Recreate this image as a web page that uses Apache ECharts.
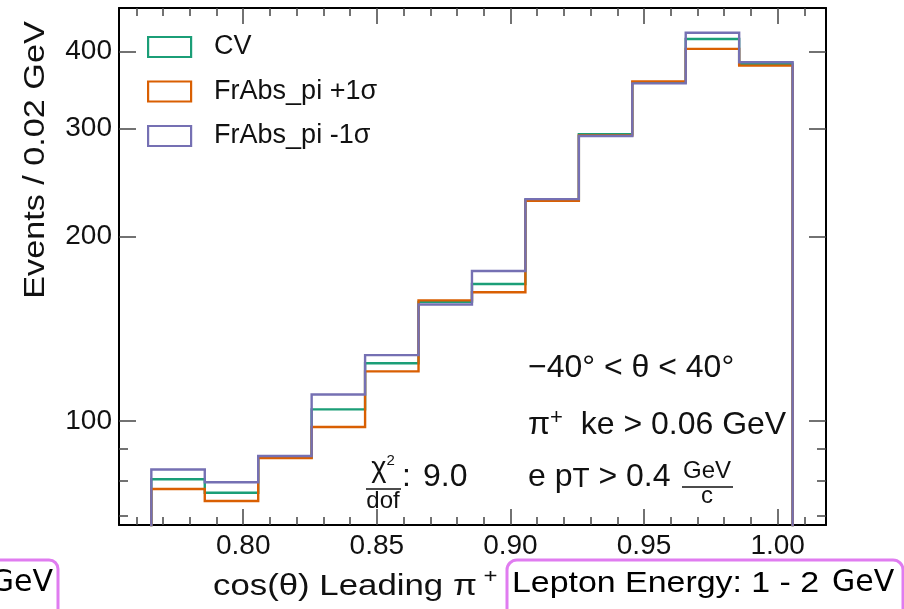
<!DOCTYPE html>
<html>
<head>
<meta charset="utf-8">
<script src="https://cdn.jsdelivr.net/npm/echarts@6/dist/echarts.min.js"></script>
<style>
html,body{margin:0;padding:0;background:#fff;}
#chart{width:904px;height:609px;}
</style>
</head>
<body>
<div id="chart"></div>
<script>
// ---- data ----
const binEdges = [0.7656, 0.7856, 0.8056, 0.8256, 0.8456, 0.8656, 0.8856, 0.9056, 0.9256, 0.9456, 0.9656, 0.9856, 1.0056];
const seriesNames = ['CV', 'FrAbs_pi +1σ', 'FrAbs_pi -1σ'];
const cvValues     = [80.4, 76.4, 87.3, 104.5, 124.2, 156.4, 167.3, 229.3, 293.4, 356.5, 419.6, 382.4];
const plus1Values  = [77.5, 74.1, 87.0,  97.8, 120.5, 157.3, 162.2, 228.6, 292.0, 357.9, 404.2, 379.6];
const minus1Values = [83.4, 79.5, 87.7, 110.5, 128.1, 154.9, 175.6, 230.0, 291.5, 355.2, 429.6, 384.4];
const xMajorTicks = [0.80, 0.85, 0.90, 0.95, 1.00];
const xMinorTicks = [0.76, 0.77, 0.78, 0.79, 0.81, 0.82, 0.83, 0.84, 0.86, 0.87, 0.88, 0.89,
                     0.91, 0.92, 0.93, 0.94, 0.96, 0.97, 0.98, 0.99, 1.01];
const yMajorTicks = [100, 200, 300, 400];
const yMinorTicks = [70, 80, 90];

// ---- layout / style ----
const X_MIN = 0.7535, X_MAX = 1.0181;
const Y_MIN = 67.7, Y_MAX = 471.3;
const FLOOR = 1; // histogram drops to zero (below visible range, clipped)
const colors = ['#1b9e77', '#d95f02', '#7570b3'];
const FONT = 'Liberation Sans, Arial, Helvetica, sans-serif';
const TICK_COLOR = '#444';

function histPoints(vals) {
  const pts = [[binEdges[0], FLOOR]];
  vals.forEach((v, i) => {
    pts.push([binEdges[i], v]);
    pts.push([binEdges[i + 1], v]);
  });
  pts.push([binEdges[binEdges.length - 1], FLOOR]);
  return pts;
}

const gridRect = {left: 119, right: 78, top: 8, bottom: 84, containLabel: false, outerBoundsMode: 'none'};

function xAxisDef(grid, pos, ticks, len, showLine, showLabel) {
  return {
    gridIndex: grid, type: 'value', position: pos, min: X_MIN, max: X_MAX,
    axisLine: {show: showLine, onZero: false, lineStyle: {color: '#000', width: 2}},
    axisTick: {show: true, inside: true, length: len, customValues: ticks,
               lineStyle: {color: TICK_COLOR, width: 1.5}},
    axisLabel: showLabel ? {show: true, customValues: ticks, margin: 7, fontSize: 28,
               fontFamily: FONT, color: '#111', formatter: v => Number(v).toFixed(2)} : {show: false},
    splitLine: {show: false}
  };
}
function yAxisDef(grid, pos, ticks, len, showLine, showLabel) {
  return {
    gridIndex: grid, type: 'log', logBase: 10, position: pos, min: Y_MIN, max: Y_MAX,
    axisLine: {show: showLine, onZero: false, lineStyle: {color: '#000', width: 2}},
    axisTick: {show: true, inside: true, length: len, customValues: ticks,
               lineStyle: {color: TICK_COLOR, width: 1.5}},
    axisLabel: showLabel ? {show: true, customValues: ticks, margin: 7, fontSize: 28,
               fontFamily: FONT, color: '#111', formatter: v => String(Math.round(v))} : {show: false},
    splitLine: {show: false}, minorTick: {show: false}
  };
}

const valueSets = [cvValues, plus1Values, minus1Values];

const option = {
  animation: false,
  backgroundColor: '#fff',
  textStyle: {fontFamily: FONT},
  grid: [Object.assign({}, gridRect), Object.assign({}, gridRect)],
  xAxis: [
    xAxisDef(0, 'bottom', xMajorTicks, 16, true, true),
    xAxisDef(0, 'top', xMajorTicks, 16, true, false),
    xAxisDef(1, 'bottom', xMinorTicks, 8, false, false),
    xAxisDef(1, 'top', xMinorTicks, 8, false, false)
  ],
  yAxis: [
    yAxisDef(0, 'left', yMajorTicks, 17, true, true),
    yAxisDef(0, 'right', yMajorTicks, 17, true, false),
    yAxisDef(1, 'left', yMinorTicks, 9, false, false),
    yAxisDef(1, 'right', yMinorTicks, 9, false, false)
  ],
  legend: {
    orient: 'vertical', left: 147, top: 33.5, padding: 0,
    itemWidth: 43, itemHeight: 20, itemGap: 17.5, selectedMode: false,
    textStyle: {fontSize: 27, color: '#111', fontFamily: FONT, padding: [0, 0, 0, 18]},
    data: seriesNames.map((n, i) => ({
      name: n, icon: 'rect',
      itemStyle: {color: '#fff', borderColor: colors[i], borderWidth: 2.2}
    }))
  },
  series: seriesNames.map((n, i) => ({
    name: n, type: 'line', xAxisIndex: 0, yAxisIndex: 0,
    data: histPoints(valueSets[i]),
    showSymbol: false, symbol: 'none', clip: true,
    color: colors[i],
    lineStyle: {color: colors[i], width: 2.4, join: 'miter', cap: 'butt'},
    emphasis: {disabled: true}, z: 2 + i
  })),
  graphic: [
    // y-axis title
    {type: 'text', x: 36, y: 160, rotation: Math.PI / 2, scaleX: 1.14, silent: true,
     style: {text: 'Events / 0.02 GeV', fontSize: 30, fontFamily: FONT, fill: '#111',
             align: 'center', verticalAlign: 'middle'}},
    // x-axis title
    {type: 'text', x: 213, y: 587, scaleX: 1.2, silent: true,
     style: {text: '{a|cos(θ) Leading π}{b| +}', align: 'left', verticalAlign: 'middle', fill: '#111',
             rich: {a: {fontSize: 29, fontFamily: FONT, fill: '#111', lineHeight: 39},
                    b: {fontSize: 20, fontFamily: FONT, fill: '#111', lineHeight: 20, verticalAlign: 'top'}}}},
    // annotations
    {type: 'text', x: 528, y: 368, silent: true,
     style: {text: '−40° < θ < 40°', fontSize: 32, fontFamily: FONT, fill: '#111',
             align: 'left', verticalAlign: 'middle'}},
    {type: 'text', x: 528, y: 425, silent: true,
     style: {text: '{m|π}{s|+}{m|  ke > 0.06 GeV}', align: 'left', verticalAlign: 'middle',
             rich: {m: {fontSize: 32, fontFamily: FONT, fill: '#111', lineHeight: 36},
                    s: {fontSize: 22, fontFamily: FONT, fill: '#111', lineHeight: 22, verticalAlign: 'top'}}}},
    {type: 'text', x: 528, y: 476.7, silent: true,
     style: {text: '{m|e p}{s|T}{m| > 0.4}', align: 'left', verticalAlign: 'middle',
             rich: {m: {fontSize: 32, fontFamily: FONT, fill: '#111', lineHeight: 34},
                    s: {fontSize: 28, fontFamily: FONT, fill: '#111', lineHeight: 28, verticalAlign: 'bottom'}}}},
    {type: 'text', x: 707, y: 471, silent: true,
     style: {text: 'GeV', fontSize: 24, fontFamily: FONT, fill: '#111', align: 'center', verticalAlign: 'middle'}},
    {type: 'line', silent: true, shape: {x1: 682, y1: 487, x2: 733, y2: 487}, style: {stroke: '#111', lineWidth: 1.5}},
    {type: 'text', x: 707, y: 496.7, silent: true,
     style: {text: 'c', fontSize: 24, fontFamily: FONT, fill: '#111', align: 'center', verticalAlign: 'middle'}},
    // chi2/dof
    {type: 'text', x: 383, y: 469, silent: true,
     style: {text: '{m|χ}{s|2}', align: 'center', verticalAlign: 'middle',
             rich: {m: {fontSize: 29, fontFamily: FONT, fill: '#111', lineHeight: 32},
                    s: {fontSize: 15, fontFamily: FONT, fill: '#111', lineHeight: 15, verticalAlign: 'top'}}}},
    {type: 'line', silent: true, shape: {x1: 366, y1: 489, x2: 401, y2: 489}, style: {stroke: '#111', lineWidth: 1.5}},
    {type: 'text', x: 383, y: 501.7, silent: true,
     style: {text: 'dof', fontSize: 24, fontFamily: FONT, fill: '#111', align: 'center', verticalAlign: 'middle'}},
    {type: 'text', x: 402, y: 476.7, silent: true,
     style: {text: ':', fontSize: 32, fontFamily: FONT, fill: '#111', align: 'left', verticalAlign: 'middle'}},
    {type: 'text', x: 423, y: 476.7, silent: true,
     style: {text: '9.0', fontSize: 32, fontFamily: FONT, fill: '#111', align: 'left', verticalAlign: 'middle'}},
    // overlay boxes at the bottom
    {type: 'rect', silent: true, shape: {x: -20, y: 560, width: 78, height: 70, r: 9},
     style: {fill: '#fff', stroke: '#e07cf0', lineWidth: 3}},
    {type: 'text', x: 53, y: 583, silent: true,
     style: {text: 'GeV', fontSize: 30, fontFamily: 'DejaVu Sans', fill: '#000', align: 'right', verticalAlign: 'middle'}},
    {type: 'rect', silent: true, shape: {x: 507, y: 560, width: 396, height: 70, r: 10},
     style: {fill: '#fff', stroke: '#e07cf0', lineWidth: 3}},
    {type: 'text', x: 512, y: 584, scaleX: 1.13, silent: true,
     style: {text: 'Lepton Energy: 1 - 2', fontSize: 30, fontFamily: FONT, fill: '#000', align: 'left', verticalAlign: 'middle'}},
    {type: 'text', x: 832, y: 583.5, silent: true,
     style: {text: 'GeV', fontSize: 30, fontFamily: 'DejaVu Sans', fill: '#000', align: 'left', verticalAlign: 'middle'}}
  ]
};

const chart = echarts.init(document.getElementById('chart'), null, {renderer: 'canvas'});
chart.setOption(option);
</script>
</body>
</html>
